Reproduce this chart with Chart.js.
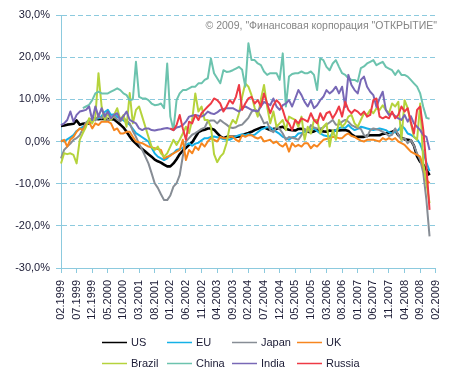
<!DOCTYPE html>
<html><head><meta charset="utf-8">
<script src="https://cdn.jsdelivr.net/npm/chart.js@4/dist/chart.umd.min.js"></script>
<style>html,body{margin:0;padding:0;background:#fff}#wrap{width:456px;height:380px}</style>
</head><body><div id="wrap"><canvas id="c" width="456" height="380"></canvas></div>
<script>
const months = [
"02.1999","03.1999","04.1999","05.1999","06.1999","07.1999","08.1999","09.1999","10.1999","11.1999","12.1999",
"01.2000","02.2000","03.2000","04.2000","05.2000","06.2000","07.2000","08.2000","09.2000","10.2000","11.2000","12.2000",
"01.2001","02.2001","03.2001","04.2001","05.2001","06.2001","07.2001","08.2001","09.2001","10.2001","11.2001","12.2001",
"01.2002","02.2002","03.2002","04.2002","05.2002","06.2002","07.2002","08.2002","09.2002","10.2002","11.2002","12.2002",
"01.2003","02.2003","03.2003","04.2003","05.2003","06.2003","07.2003","08.2003","09.2003","10.2003","11.2003","12.2003",
"01.2004","02.2004","03.2004","04.2004","05.2004","06.2004","07.2004","08.2004","09.2004","10.2004","11.2004","12.2004",
"01.2005","02.2005","03.2005","04.2005","05.2005","06.2005","07.2005","08.2005","09.2005","10.2005","11.2005","12.2005",
"01.2006","02.2006","03.2006","04.2006","05.2006","06.2006","07.2006","08.2006","09.2006","10.2006","11.2006","12.2006",
"01.2007","02.2007","03.2007","04.2007","05.2007","06.2007","07.2007","08.2007","09.2007","10.2007","11.2007","12.2007",
"01.2008","02.2008","03.2008","04.2008","05.2008","06.2008","07.2008","08.2008","09.2008","10.2008","11.2008","12.2008",
"01.2009","02.2009"];

const yTicks = [-30, -20, -10, 0, 10, 20, 30];

const us = [3.7,3.8,4.0,4.1,4.2,5.0,4.0,4.2,4.3,4.3,
5.5,5.4,5.3,5.4,5.3,5.3,5.3,5.2,4.6,4.0,
3.3,2.3,1.2,0.2,-0.5,-1.2,-1.8,-2.4,-3.0,-3.6,
-4.3,-4.7,-5.0,-5.5,-5.9,-5.9,-5.2,-4.2,-3.0,-2.2,
-1.5,-0.8,-0.2,1.0,2.2,2.6,2.8,3.1,3.1,2.8,
2.0,1.2,0.8,1.1,1.1,1.1,1.1,1.2,1.5,1.8,
2.0,2.3,2.7,3.0,3.3,3.4,3.0,2.7,3.0,3.0,
3.3,3.5,3.0,2.8,2.7,2.6,3.0,3.0,2.7,2.3,
2.2,2.4,2.7,2.6,2.4,2.3,2.6,2.5,2.6,2.6,
2.7,2.7,2.5,1.7,1.2,1.1,1.1,1.1,1.4,1.5,
1.5,1.5,1.5,1.8,1.9,2.1,2.3,2.6,1.5,0.9,
0.5,0.4,0.3,-1.0,-3.5,-4.8,-5.5,-6.7,-8.0];

const eu = [0.3,0.0,0.5,1.0,1.5,2.5,3.0,3.5,4.0,4.5,
5.0,5.3,5.5,6.0,7.0,7.5,6.3,6.5,5.8,5.5,
5.0,4.5,4.0,3.0,2.0,1.5,1.0,0.5,0.0,-1.5,
-2.8,-3.6,-4.0,-4.4,-4.0,-3.2,-2.8,-2.0,-1.8,-1.5,
-0.8,-0.4,-1.0,-0.5,-0.3,0.3,0.8,0.8,1.1,1.2,
1.0,0.8,0.6,0.4,0.4,0.8,1.2,1.5,1.7,1.5,
1.8,1.5,1.6,2.2,2.8,3.1,3.4,3.4,2.8,2.3,
1.8,1.1,0.8,0.4,1.0,1.1,1.9,2.0,2.3,2.6,
2.9,3.1,2.5,1.9,1.5,1.3,1.1,2.0,2.7,3.2,
3.4,3.2,3.9,3.2,2.7,3.0,3.5,3.3,3.1,2.9,
2.7,2.9,3.1,2.9,2.7,2.2,1.9,2.3,2.7,3.8,
3.1,1.9,1.6,1.1,0.5,-0.6,-2.5,-5.0,-7.0];

const japan = [-4.0,-2.0,-1.2,-0.5,0.4,0.8,1.5,3.0,4.5,5.1,
5.5,5.0,6.0,5.5,6.5,5.0,5.5,6.0,5.2,4.8,
5.5,5.0,4.3,2.5,1.1,-0.5,-2.0,-3.6,-5.2,-7.5,
-9.9,-11.0,-12.5,-13.9,-13.9,-12.8,-10.7,-9.9,-8.0,-3.5,
0.0,0.8,1.6,2.0,2.5,3.0,3.3,4.8,5.0,5.0,
4.3,5.1,4.5,4.0,3.4,3.2,3.4,3.8,4.0,4.8,
5.6,7.0,7.6,7.2,5.9,4.3,4.6,2.7,2.2,3.5,
3.0,1.9,0.4,1.1,0.9,0.7,0.4,1.5,3.0,2.3,
3.9,3.3,3.1,3.1,3.3,4.0,4.5,5.1,4.0,4.0,
4.7,5.1,4.7,3.9,3.5,3.2,3.0,1.5,1.1,2.7,
3.1,2.9,2.7,2.3,1.9,1.3,1.6,3.1,1.5,0.4,
0.8,-0.4,0.4,-1.0,-2.8,-4.4,-7.5,-13.9,-22.5];

const uk = [0.0,0.4,-1.2,0.5,1.1,2.3,3.1,2.7,4.0,4.6,
3.1,4.3,3.9,4.7,4.7,4.7,4.3,2.7,3.1,1.9,
1.9,2.3,2.3,1.1,0.0,-0.2,-0.4,-0.8,-1.2,-1.4,
-1.6,-1.8,-2.0,-4.0,-3.6,-3.4,-2.8,-2.4,-2.0,0.4,
-4.4,-2.0,-2.8,-1.2,-2.0,-0.4,-1.2,0.0,0.8,0.4,
0.0,1.1,0.8,0.8,1.1,1.1,0.4,0.0,1.5,1.1,
1.5,1.5,1.0,0.7,1.1,0.0,0.2,0.4,-0.4,0.0,
-0.8,-1.2,-0.4,-2.4,-0.4,-1.2,-0.8,-1.2,-0.4,-0.4,
-1.6,-0.8,-1.2,-0.4,0.4,0.6,0.8,1.1,1.0,0.8,
0.8,1.5,1.9,1.3,1.1,0.6,0.2,0.0,0.4,0.4,
0.4,0.2,0.0,0.8,0.4,0.8,0.4,0.8,0.0,-0.4,
-0.8,-1.6,-2.4,-2.8,-3.2,-3.6,-6.0,-9.1,-9.9];

const brazil = [-5.2,-2.8,-3.0,-2.8,-3.2,-5.2,0.4,2.0,3.5,5.5,
4.3,5.9,16.2,8.3,5.1,6.7,5.1,6.3,7.9,5.1,
6.3,3.5,11.5,4.3,7.5,8.3,5.9,3.5,1.1,-1.2,
-2.0,-1.2,-2.8,-3.6,-2.8,-1.2,0.4,-0.8,0.4,1.9,
3.5,2.0,5.1,11.4,7.1,8.3,5.1,5.1,3.5,-3.0,
-4.9,-3.6,-2.8,-0.4,3.5,5.1,4.3,6.7,10.6,13.8,
13.0,11.0,8.0,5.9,10.0,13.4,8.3,4.3,7.1,3.5,
4.3,5.1,2.7,5.9,5.5,5.1,3.5,5.9,0.4,3.5,
1.9,5.1,5.1,1.9,3.5,4.3,-1.2,2.7,0.4,5.1,
3.5,4.3,5.9,6.3,4.3,3.5,5.1,6.7,6.3,7.5,
6.7,7.9,7.5,8.6,7.5,6.7,9.0,8.3,9.4,0.4,
9.8,7.9,4.3,1.1,0.4,9.0,-5.2,-9.9,-14.6];

const china = [null,null,null,null,null,null,null,7.9,8.3,8.7,
9.8,11.4,11.8,11.4,11.4,11.4,11.8,12.2,12.6,12.2,
11.4,11.0,9.8,10.0,18.9,10.6,10.2,10.2,9.8,9.0,
8.6,8.7,9.0,7.9,18.5,5.9,2.7,9.8,11.4,12.2,
12.2,12.6,13.0,13.0,13.8,13.8,14.6,15.0,19.7,16.2,
15.0,13.8,16.9,16.5,16.6,16.9,17.3,17.7,17.0,13.0,
23.3,19.3,19.3,18.5,18.1,16.6,15.8,16.2,16.2,16.2,
14.6,20.9,8.3,15.4,16.0,16.2,16.2,16.6,16.2,16.2,
16.6,15.8,12.2,19.7,19.3,17.7,16.9,18.5,19.3,17.7,
16.2,15.8,15.0,14.6,14.6,14.2,17.4,17.8,18.5,18.9,
19.3,18.1,18.5,18.9,17.7,17.3,16.9,15.8,16.9,15.8,
15.8,15.4,14.6,13.8,13.0,11.4,8.2,5.6,5.4];

const india = [3.9,4.3,5.1,7.1,4.7,6.3,7.1,7.3,7.5,8.3,
5.1,8.3,5.9,7.9,5.9,7.1,5.5,6.3,6.7,5.1,
6.0,7.1,5.1,4.7,4.3,3.1,2.7,3.1,3.1,2.7,
2.6,2.8,2.9,3.1,3.2,3.0,2.7,3.3,3.5,3.9,
4.7,5.9,6.1,6.3,6.1,5.9,6.3,7.1,6.7,6.5,
6.9,7.5,7.7,7.9,7.9,7.9,7.5,7.1,7.9,8.3,
7.9,7.5,7.3,7.1,8.3,9.4,9.0,8.6,10.2,8.3,
7.5,8.6,9.0,9.8,8.3,10.2,12.2,11.0,9.4,8.3,
9.8,7.9,8.6,9.8,10.6,12.2,11.4,12.0,13.0,11.4,
13.0,8.2,15.8,13.4,12.2,11.4,14.6,15.4,13.0,11.8,
11.0,8.2,10.2,11.8,7.5,6.3,6.7,6.0,5.5,5.1,
6.3,4.7,6.0,4.3,3.5,2.7,1.5,1.1,-2.0];

const russia = [null,null,null,null,null,null,null,null,null,null,
null,null,null,null,null,null,null,null,null,null,
null,null,null,null,null,null,null,null,null,null,
null,null,null,null,null,3.1,2.7,3.9,6.3,3.1,
0.4,4.7,4.3,6.3,5.1,6.7,7.5,8.3,9.0,10.2,
9.8,9.0,7.1,8.3,9.8,9.0,10.6,13.4,7.5,9.0,
10.2,10.6,9.0,9.8,8.3,11.4,9.0,6.7,8.6,9.8,
9.0,7.5,5.1,4.3,2.7,5.1,4.3,5.5,5.1,4.7,
6.7,5.1,4.3,6.7,5.1,6.7,7.1,5.5,6.7,8.3,
5.9,9.4,7.5,6.7,7.5,7.1,6.3,7.1,5.9,6.3,
9.8,10.2,5.9,5.5,5.9,5.5,7.1,5.5,6.3,8.3,
7.1,7.9,4.7,1.9,7.5,8.3,2.7,-6.0,-16.2];

const seriesNames = ["US","EU","Japan","UK","Brazil","China","India","Russia"];
const seriesData = [us, eu, japan, uk, brazil, china, india, russia];
const seriesColors = ["#000000","#14b1e7","#878d95","#f7861f","#b5d33c","#6cc3ae","#7868b6","#ee3a45"];
const seriesWidths = [2.6,2,2,2,2,2,2,2];

const FONT = "Arial, 'Liberation Sans', sans-serif";
const TXT = "#1b1b35";
const GRID = "#8ccade";

const legendPlugin = {
  id: 'gridLegend',
  afterDraw(chart) {
    const ctx = chart.ctx;
    ctx.save();
    ctx.font = "11px " + FONT;
    ctx.textBaseline = "middle";
    const cols = [102, 167, 232, 297];
    const rows = [342, 363];
    chart.data.datasets.forEach((ds, i) => {
      const x = cols[i % 4], y = rows[Math.floor(i / 4)];
      ctx.strokeStyle = ds.borderColor;
      ctx.lineWidth = 1.5;
      ctx.beginPath(); ctx.moveTo(x, y + 0.5); ctx.lineTo(x + 25, y + 0.5); ctx.stroke();
      ctx.fillStyle = TXT;
      ctx.fillText(ds.label, x + 29, y + 1);
    });
    ctx.restore();
  }
};

const copyrightPlugin = {
  id: 'copyright',
  beforeDatasetsDraw(chart) {
    const ctx = chart.ctx;
    ctx.save();
    ctx.font = "10.5px " + FONT;
    ctx.fillStyle = "#858585";
    ctx.textAlign = "right";
    ctx.textBaseline = "alphabetic";
    ctx.fillText('\u00A9 2009, "Финансовая корпорация "ОТКРЫТИЕ"', 437, 29);
    ctx.restore();
  }
};

new Chart(document.getElementById('c'), {
  type: 'line',
  data: {
    labels: months,
    datasets: seriesNames.map((n, i) => ({
      label: n,
      data: seriesData[i],
      borderColor: seriesColors[i],
      backgroundColor: seriesColors[i],
      borderWidth: seriesWidths[i],
      pointRadius: 0,
      tension: 0,
      fill: false,
      borderJoinStyle: 'round',
      order: 8 - i
    }))
  },
  options: {
    responsive: false,
    animation: false,
    devicePixelRatio: 1,
    layout: { padding: { top: 15, right: 17, bottom: 0, left: 0 } },
    plugins: { legend: { display: false }, tooltip: { enabled: false } },
    scales: {
      x: {
        type: 'category',
        offset: false,
        afterFit(s) { s.height = 112; },
        afterBuildTicks(s) { s.ticks = s.ticks.filter((t, i) => i % 5 === 0); },
        grid: { drawOnChartArea: false, tickLength: 5, color: GRID },
        border: { display: true, color: GRID, width: 1 },
        ticks: { autoSkip: false, maxRotation: 90, minRotation: 90, padding: 7,
                 color: TXT, font: { size: 11, family: FONT } }
      },
      y: {
        min: -30, max: 30,
        afterFit(s) { s.width = 61; },
        afterBuildTicks(s) { s.ticks = yTicks.map(v => ({ value: v })); },
        grid: { color: GRID, tickLength: 5, lineWidth: 1 },
        border: { display: true, color: GRID, width: 1, dash: [5, 3] },
        ticks: { padding: 6, color: TXT, font: { size: 11, family: FONT },
                 callback: v => v.toFixed(1).replace('.', ',') + '%' }
      }
    }
  },
  plugins: [legendPlugin, copyrightPlugin]
});
</script></body></html>
